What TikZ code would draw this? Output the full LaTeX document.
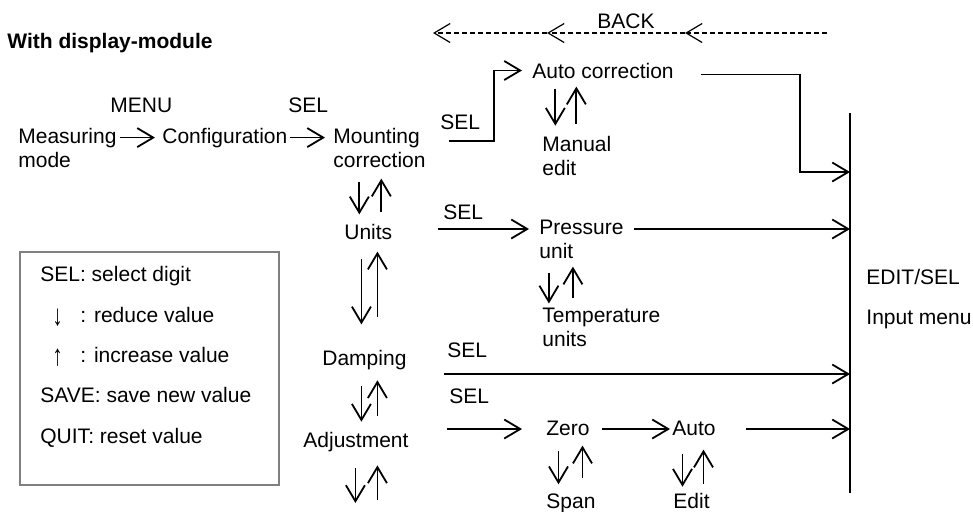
\documentclass[tikz,border=0pt]{standalone}
\usepackage{fontspec}
\usepackage{graphicx}
\setmainfont{Liberation Sans}
\usetikzlibrary{arrows.meta}
\tikzset{
  txt/.style={inner sep=0pt,anchor=base west,align=left},
  arr/.style={-{Straight Barb[length=8pt,width=9.5pt]},line width=0.9pt},
  backarr/.style={-{Straight Barb[length=8pt,width=9.5pt]},line width=0.6pt,dash pattern=on 2.6pt off 1.4pt},
  legendbox/.style={draw=gray,line width=1pt,inner sep=0pt,minimum width=129.5pt,minimum height=116.5pt,anchor=north west}
}
\begin{document}
\begin{tikzpicture}[x=0.5pt,y=-0.5pt,font=\fontsize{10.5}{12}\selectfont]
\useasboundingbox (0,0) rectangle (973,511);
\node[txt,font=\fontsize{10.5}{12}\selectfont\bfseries] (title) at (7,48) {With display-module};
\node[txt] (meas) at (18,167) {Measuring\\mode};
\node[txt] (conf) at (162,143) {Configuration};
\node[txt] (mount) at (333,167) {Mounting\\correction};
\node[txt] (menu) at (110,112) {MENU};
\node[txt] (selT) at (288,112) {SEL};
\node[txt] (units) at (344,239) {Units};
\node[txt] (damp) at (322,365) {Damping};
\node[txt] (adj) at (303,447) {Adjustment};
\node[txt] (autoc) at (532,78) {Auto correction};
\node[txt] (manual) at (542,175) {Manual\\edit};
\node[txt] (pres) at (539,258) {Pressure\\unit};
\node[txt] (temp) at (542,346) {Temperature\\units};
\node[txt] (zero) at (546,435) {Zero};
\node[txt] (auto) at (672,435) {Auto};
\node[txt] (span) at (546,508) {Span};
\node[txt] (edit) at (673,508) {Edit};
\node[txt] (selM) at (440,129) {SEL};
\node[txt] (selU) at (443,219) {SEL};
\node[txt] (selD) at (447,357) {SEL};
\node[txt] (selA) at (449,403) {SEL};
\node[txt] (editsel) at (866,284) {EDIT/SEL};
\node[txt] (inmenu) at (866,324) {Input menu};
\node[txt] (back) at (597,28) {BACK};
\node[legendbox] (legend) at (19,251) {};
\node[txt,font=\fontsize{10.5}{20.15}\selectfont] (legtext) at (40,443) {SEL: select digit\\\makebox[20pt][l]{\hspace{6pt}\raisebox{-1.5pt}{\scalebox{1}[1.4]{↓}}}: reduce value\\\makebox[20pt][l]{\hspace{6pt}\raisebox{-1.5pt}{\scalebox{1}[1.4]{↑}}}: increase value\\SAVE: save new value\\QUIT: reset value};
\coordinate (b0) at (433,33);
\coordinate (b1) at (547,33);
\coordinate (b2) at (685,33);
\coordinate (b3) at (827,33);
\coordinate (bartop) at (850,113);
\coordinate (barbot) at (850,493);
\coordinate (in1) at (850,172);
\coordinate (in2) at (850,229);
\coordinate (in3) at (850,374);
\coordinate (in4) at (850,429);
\coordinate (adjmore) at (366,503);
\draw[backarr] (b3) -- (b2);
\draw[backarr] (b2) -- (b1);
\draw[backarr] (b1) -- (b0);
\draw[line width=0.9pt] (bartop) -- (barbot);
\draw[arr] ([xshift=1.5pt]meas.east |- conf.west) -- ([xshift=-3.5pt]conf.west);
\draw[arr] ([xshift=1pt]conf.east) -- ([xshift=-4pt]mount.west |- conf.east);
\draw[arr] ([shift={(4.5pt,-6pt)}]selM.base west) -| ([xshift=-19pt]autoc.west) -- ([xshift=-5pt]autoc.west);
\draw[arr] ([shift={(13.5pt,-2pt)}]autoc.east) -| ([xshift=-25pt]in1) -- (in1);
\draw[arr,shorten >=5pt] ([xshift=-2.5pt]selU.west |- in2) -- (pres.west |- in2);
\draw[arr,shorten <=5pt] (pres.east |- in2) -- (in2);
\draw[arr] ([xshift=-1.75pt]selD.west |- in3) -- (in3);
\draw[arr,shorten >=12pt] ([xshift=-1.25pt]selA.west |- in4) -- (zero.west |- in4);
\draw[arr,shorten <=6pt,shorten >=1pt] (zero.east |- in4) -- (auto.west |- in4);
\draw[arr,shorten <=15pt] (auto.east |- in4) -- (in4);
\draw[arr,shorten <=7pt,shorten >=4.5pt] ([xshift=-4.5pt]units.north |- mount.south) -- ([xshift=-4.5pt]units.north);
\draw[arr,shorten <=5.5pt,shorten >=5.5pt] ([xshift=6.5pt]units.north) -- ([xshift=6.5pt]units.north |- mount.south);
\draw[arr,shorten <=9.5pt,shorten >=12.5pt] ([xshift=-1.5pt]damp.north |- units.south) -- ([xshift=-1.5pt]damp.north);
\draw[arr,shorten <=16pt,shorten >=6pt] ([xshift=6.5pt]damp.north) -- ([xshift=6.5pt]damp.north |- units.south);
\draw[arr,shorten <=8.25pt,shorten >=4.85pt] ([xshift=-1.5pt]damp.south) -- ([xshift=-1.5pt]damp.south |- adj.north);
\draw[arr,shorten <=7.85pt,shorten >=5.25pt] ([xshift=6.5pt]damp.south |- adj.north) -- ([xshift=6.5pt]damp.south);
\draw[arr,shorten <=8.3pt] ([xshift=-0.25pt]adj.south) -- ([xshift=-0.25pt]adj.south |- adjmore);
\draw[arr,shorten <=1.5pt,shorten >=6.8pt] ([xshift=10.75pt]adj.south |- adjmore) -- ([xshift=10.75pt]adj.south);
\draw[arr,shorten <=5pt,shorten >=4.85pt] ([xshift=-10.75pt]manual.north |- autoc.south) -- ([xshift=-10.75pt]manual.north);
\draw[arr,shorten <=5.85pt,shorten >=4pt] ([xshift=-0.25pt]manual.north) -- ([xshift=-0.25pt]manual.north |- autoc.south);
\draw[arr,shorten <=7pt,shorten >=1.85pt] ([xshift=-16.25pt]pres.south) -- ([xshift=-16.25pt]pres.south |- temp.north);
\draw[arr,shorten <=4.35pt,shorten >=4pt] ([xshift=-4.25pt]pres.south |- temp.north) -- ([xshift=-4.25pt]pres.south);
\draw[arr,shorten <=7.5pt,shorten >=4.35pt] ([xshift=-4.75pt]zero.south) -- ([xshift=-4.75pt]zero.south |- span.north);
\draw[arr,shorten <=7.35pt,shorten >=5pt] ([xshift=7.25pt]zero.south |- span.north) -- ([xshift=7.25pt]zero.south);
\draw[arr,shorten <=9pt,shorten >=2.85pt] ([xshift=-5.75pt]auto.south) -- ([xshift=-5.75pt]auto.south |- edit.north);
\draw[arr,shorten <=4.35pt,shorten >=7pt] ([xshift=4.75pt]auto.south |- edit.north) -- ([xshift=4.75pt]auto.south);
\end{tikzpicture}
\end{document}
